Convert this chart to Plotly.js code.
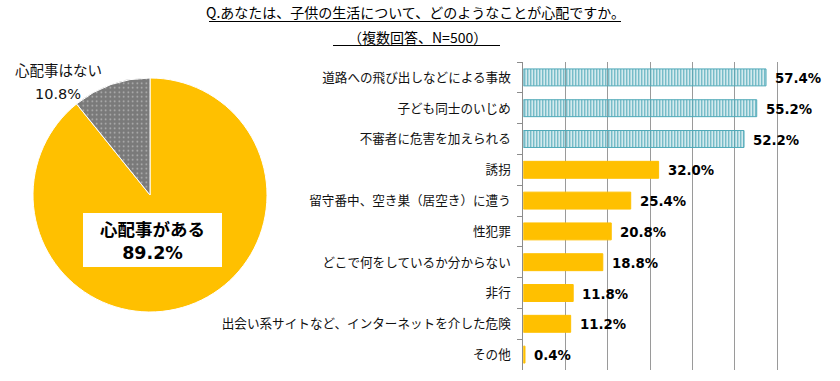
<!DOCTYPE html>
<html>
<head>
<meta charset="utf-8">
<script src="https://cdn.plot.ly/plotly-3.0.1.min.js"></script>
<style>html,body{margin:0;padding:0;background:#fff;}#chart{width:840px;height:381px;}</style>
</head>
<body>
<div id="chart"></div>
<script>
const titleLine1 = 'Q.あなたは、子供の生活について、どのようなことが心配ですか。';
const titleLine2 = '（複数回答、N=500）';
const pieLabels = ['心配事がある', '心配事はない'];
const pieValues = [89.2, 10.8];
const categories = [
  '道路への飛び出しなどによる事故',
  '子ども同士のいじめ',
  '不審者に危害を加えられる',
  '誘拐',
  '留守番中、空き巣（居空き）に遭う',
  '性犯罪',
  'どこで何をしているか分からない',
  '非行',
  '出会い系サイトなど、インターネットを介した危険',
  'その他'
];
const values = [57.4, 55.2, 52.2, 32.0, 25.4, 20.8, 18.8, 11.8, 11.2, 0.4];
const topGroup = [true, true, true, false, false, false, false, false, false, false];

const YELLOW = '#FFC000';
const TEAL = '#4FA9B8';
const GRAY = '#7A7A7A';
const JP = '"Noto Sans CJK JP", sans-serif';
const NUM = '"DejaVu Sans", "Noto Sans CJK JP", sans-serif';

const pct = v => v.toFixed(1) + '%';

const pieTrace = {
  type: 'pie',
  labels: pieLabels,
  values: pieValues,
  sort: false,
  direction: 'clockwise',
  rotation: 0,
  textinfo: 'none',
  hoverinfo: 'label+percent',
  showlegend: false,
  domain: {x: [33/840, 267/840], y: [(381-312)/381, (381-78)/381]},
  marker: {
    colors: [YELLOW, GRAY],
    line: {color: '#ffffff', width: 1},
    pattern: {shape: ['', '.'], fgcolor: '#ffffff', bgcolor: [YELLOW, GRAY], size: 4.5, solidity: 0.1, fillmode: 'overlay'}
  }
};

const barTrace = {
  type: 'bar',
  orientation: 'h',
  y: categories,
  x: values,
  xaxis: 'x',
  yaxis: 'y',
  showlegend: false,
  hoverinfo: 'y+x',
  marker: {
    color: topGroup.map(t => t ? TEAL : YELLOW),
    line: {color: topGroup.map(t => t ? TEAL : YELLOW), width: 1},
    pattern: {
      shape: topGroup.map(t => t ? '|' : ''),
      fgcolor: topGroup.map(t => t ? TEAL : YELLOW),
      bgcolor: topGroup.map(t => t ? '#ffffff' : YELLOW),
      size: 3,
      solidity: 0.5
    }
  }
};

const annotations = [];
categories.forEach((c, i) => {
  annotations.push({
    xref: 'x', yref: 'y', x: values[i], y: c,
    text: '<b>' + pct(values[i]) + '</b>',
    showarrow: false, xanchor: 'left', yanchor: 'middle', xshift: 7, yshift: -1,
    font: {family: NUM, size: 13.3, color: '#000'}
  });
});
annotations.push({
  xref: 'paper', yref: 'paper', x: 58/840, y: (381-69)/381,
  text: pieLabels[1], showarrow: false, xanchor: 'center', yanchor: 'middle',
  font: {family: JP, size: 14.5, color: '#111'}
});
annotations.push({
  xref: 'paper', yref: 'paper', x: 58/840, y: (381-94)/381,
  text: pct(pieValues[1]), showarrow: false, xanchor: 'center', yanchor: 'middle',
  font: {family: NUM, size: 14.5, color: '#111'}
});
annotations.push({
  xref: 'paper', yref: 'paper', x: 152/840, y: (381-241)/381,
  text: '<b>' + pieLabels[0] + '<br>' + pct(pieValues[0]) + '</b>', showarrow: false,
  xanchor: 'center', yanchor: 'middle',
  font: {family: NUM, size: 17.5, color: '#000'}
});
annotations.push({
  xref: 'paper', yref: 'paper', x: 415/840, y: (381-12.5)/381,
  text: titleLine1, showarrow: false, xanchor: 'center', yanchor: 'middle',
  font: {family: JP, size: 14, color: '#000'}
});
annotations.push({
  xref: 'paper', yref: 'paper', x: 417/840, y: (381-37)/381,
  text: titleLine2, showarrow: false, xanchor: 'center', yanchor: 'middle',
  font: {family: JP, size: 14, color: '#000'}
});

const shapes = [
  {type: 'rect', xref: 'paper', yref: 'paper', x0: 83/840, x1: 222/840, y0: (381-267)/381, y1: (381-213)/381,
   fillcolor: '#ffffff', line: {width: 0}, layer: 'above'},
  {type: 'line', xref: 'paper', yref: 'paper', x0: 209/840, x1: 621/840, y0: (381-21.5)/381, y1: (381-21.5)/381,
   line: {color: '#000', width: 1}},
  {type: 'line', xref: 'paper', yref: 'paper', x0: 333/840, x1: 500/840, y0: (381-45.5)/381, y1: (381-45.5)/381,
   line: {color: '#000', width: 1}}
];

const layout = {
  width: 840, height: 381,
  margin: {l: 0, r: 0, t: 0, b: 0},
  paper_bgcolor: '#ffffff', plot_bgcolor: '#ffffff',
  bargap: 0.45,
  xaxis: {
    domain: [523.3/840, 819.3/840], range: [0, 70], dtick: 10,
    showgrid: true, gridcolor: '#9a9a9a', gridwidth: 1,
    zeroline: false, showticklabels: false, ticks: '', showline: false, fixedrange: true
  },
  yaxis: {
    domain: [(381-370)/381, (381-62)/381],
    type: 'category', autorange: 'reversed',
    showline: true, linecolor: '#8c8c8c', linewidth: 1,
    ticks: 'outside', tickson: 'boundaries', ticklen: 5, tickcolor: '#8c8c8c',
    showgrid: false, zeroline: false, ticklabelstandoff: 9,
    tickfont: {family: JP, size: 12.6, color: '#111'}, fixedrange: true
  },
  annotations: annotations,
  shapes: shapes
};

Plotly.newPlot('chart', [pieTrace, barTrace], layout, {displayModeBar: false, staticPlot: true});
</script>
</body>
</html>
